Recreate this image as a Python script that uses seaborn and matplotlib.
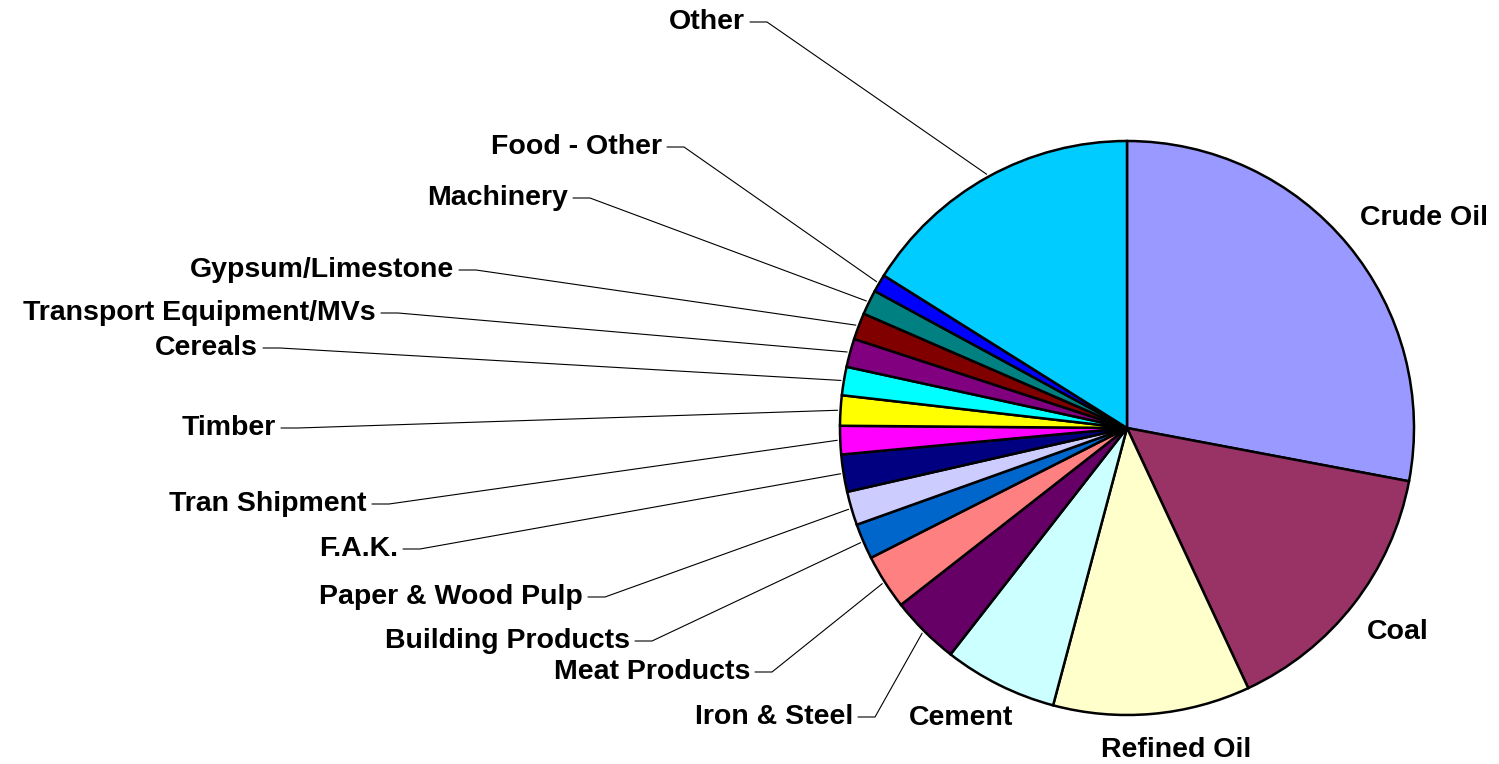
import matplotlib
matplotlib.use("Agg")

import numpy as np
import matplotlib.pyplot as plt
import seaborn as sns

# ==========================================================
# DATA  (share of tonnage)
# ==========================================================

categories = [
    "Crude Oil", "Coal", "Refined Oil", "Cement", "Iron & Steel",
    "Meat Products", "Building Products", "Paper & Wood Pulp", "F.A.K.",
    "Tran Shipment", "Timber", "Cereals", "Transport Equipment/MVs",
    "Gypsum/Limestone", "Machinery", "Food - Other", "Other"
]

shares = [28.0, 15.1, 11.1, 6.4, 3.9, 3.1, 2.0, 1.9, 2.1,
          1.6, 1.7, 1.6, 1.6, 1.5, 1.4, 1.0, 16.1]

slice_colors = [
    "#9999FF", "#993366", "#FFFFCC", "#CCFFFF", "#660066",
    "#FF8080", "#0066CC", "#CCCCFF", "#000080", "#FF00FF",
    "#FFFF00", "#00FFFF", "#800080", "#800000", "#008080",
    "#0000FF", "#00CCFF"
]

# ==========================================================
# LAYOUT  (pixel positions, origin top-left)
# ==========================================================

W, H = 1499, 764
CENTER = (1127, 428)
RADIUS = 287
FONT_SIZE = 20.5

# label -> (x, y, has leader line); leader labels are right-aligned
label_pos = {
    "Crude Oil": (1424, 218, False),
    "Coal": (1398, 632, False),
    "Refined Oil": (1176, 750, False),
    "Cement": (961, 718, False),
    "Iron & Steel": (853, 717, True),
    "Meat Products": (750, 672, True),
    "Building Products": (630, 641, True),
    "Paper & Wood Pulp": (583, 597, True),
    "F.A.K.": (398, 549, True),
    "Tran Shipment": (367, 504, True),
    "Timber": (276, 428, True),
    "Cereals": (258, 348, True),
    "Transport Equipment/MVs": (376, 313, True),
    "Gypsum/Limestone": (454, 270, True),
    "Machinery": (568, 198, True),
    "Food - Other": (662, 147, True),
    "Other": (745, 22, True),
}

sns.set_style("white")
plt.rcParams["font.family"] = ["Liberation Sans", "DejaVu Sans"]

fig = plt.figure(figsize=(W / 100, H / 100), dpi=100)
ax = fig.add_axes([0, 0, 1, 1])

palette = sns.color_palette(slice_colors)

wedges, _ = ax.pie(
    shares,
    colors=palette,
    startangle=90,
    counterclock=False,
    center=(CENTER[0], H - CENTER[1]),
    radius=RADIUS,
    wedgeprops=dict(edgecolor="black", linewidth=1.8),
)

ax.set_xlim(0, W)
ax.set_ylim(0, H)
ax.set_aspect("equal")
ax.axis("off")

# ==========================================================
# LABELS + LEADER LINES
# ==========================================================

for wedge, name in zip(wedges, categories):
    x, y, leader = label_pos[name]
    y = H - y
    if not leader:
        ax.text(x, y, name, ha="center", va="center",
                fontsize=FONT_SIZE, fontweight="bold", color="black")
        continue

    ax.text(x, y, name, ha="right", va="center",
            fontsize=FONT_SIZE, fontweight="bold", color="black")

    mid = np.deg2rad((wedge.theta1 + wedge.theta2) / 2)
    px = wedge.center[0] + (RADIUS + 3) * np.cos(mid)
    py = wedge.center[1] + (RADIUS + 3) * np.sin(mid)

    ax.plot([x + 5, x + 22, px], [y, y, py], color="black", linewidth=0.8)

fig.savefig("out.png", dpi=100, facecolor="white")
